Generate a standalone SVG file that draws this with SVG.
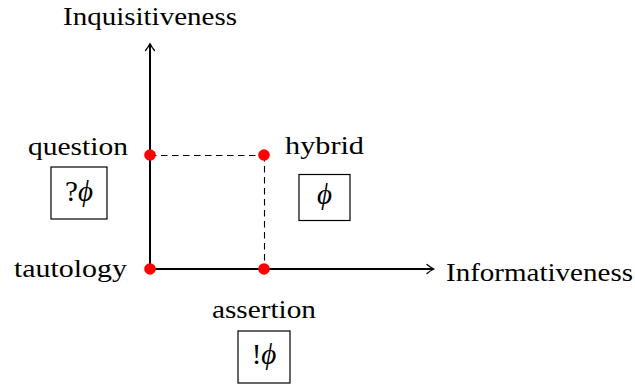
<svg xmlns="http://www.w3.org/2000/svg" width="635" height="387" viewBox="0 0 635 387">
  <style>
    .lbl { font-family: "Liberation Serif", serif; font-size: 26px; fill: #000; }
    .math { font-family: "Liberation Serif", "DejaVu Serif", serif; font-size: 29px; fill: #000; }
    .phi { font-style: italic; }
    .axis { stroke: #000; stroke-width: 2; fill: none; }
    .dash { stroke: #000; stroke-width: 1.1; stroke-dasharray: 6.5 4.5; fill: none; }
    .box { stroke: #000; stroke-width: 1.2; fill: #fff; }
    .dot { fill: #ff0000; }
    .head { stroke: #000; stroke-width: 1.3; fill: none; stroke-linecap: round; stroke-linejoin: round; }
  </style>

  <!-- axes and guide lines -->
  <g id="connectors">
    <line class="axis" x1="150" y1="269" x2="150" y2="44"/>
    <path class="head" d="M145.5 50.5 Q148.5 47 150 43.5 Q151.5 47 154.5 50.5"/>
    <line class="axis" x1="150" y1="269" x2="433" y2="269"/>
    <path class="head" d="M427 264.5 Q430.5 267.5 434 269 Q430.5 270.5 427 273.5"/>
    <line class="dash" x1="150" y1="155.5" x2="264" y2="155.5"/>
    <line class="dash" x1="264.5" y1="155" x2="264.5" y2="269"/>
  </g>

  <g id="axis-y-label">
    <text class="lbl" x="150" y="25" text-anchor="middle" textLength="174" lengthAdjust="spacingAndGlyphs">Inquisitiveness</text>
  </g>
  <g id="axis-x-label">
    <text class="lbl" x="446" y="281" textLength="187" lengthAdjust="spacingAndGlyphs">Informativeness</text>
  </g>

  <g id="tautology">
    <circle class="dot" cx="150" cy="269" r="5.8"/>
    <text class="lbl" x="14" y="277" textLength="113" lengthAdjust="spacingAndGlyphs">tautology</text>
  </g>

  <g id="question">
    <circle class="dot" cx="150" cy="155" r="5.8"/>
    <text class="lbl" x="28" y="155" textLength="100" lengthAdjust="spacingAndGlyphs">question</text>
    <rect class="box" x="51" y="167" width="56" height="52"/>
    <text class="math" x="79" y="201" text-anchor="middle">?<tspan class="phi">ϕ</tspan></text>
  </g>

  <g id="hybrid">
    <circle class="dot" cx="264" cy="155" r="5.8"/>
    <text class="lbl" x="285" y="154" textLength="79" lengthAdjust="spacingAndGlyphs">hybrid</text>
    <rect class="box" x="299" y="174.5" width="51" height="46"/>
    <text class="math phi" x="324.5" y="204" text-anchor="middle">ϕ</text>
  </g>

  <g id="assertion">
    <circle class="dot" cx="264" cy="269" r="5.8"/>
    <text class="lbl" x="212" y="318" textLength="104" lengthAdjust="spacingAndGlyphs">assertion</text>
    <rect class="box" x="238" y="331" width="52" height="52"/>
    <text class="math" x="264" y="364" text-anchor="middle">!<tspan class="phi">ϕ</tspan></text>
  </g>
</svg>
